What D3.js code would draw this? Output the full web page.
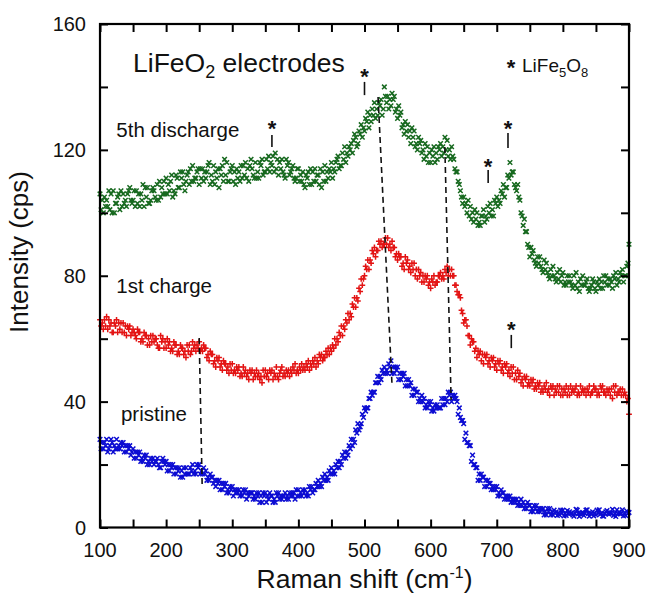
<!DOCTYPE html>
<html><head><meta charset="utf-8">
<script src="https://cdn.jsdelivr.net/npm/d3@7/dist/d3.min.js"></script>
<style>body{margin:0;background:#fff;} svg{display:block;font-family:"Liberation Sans",Arial,sans-serif;}</style>
</head><body>
<svg id="chart" width="649" height="596"></svg>
<script>
// Raman shift grids (cm-1) of three interleaved scans
const shiftA = d3.range(100, 901, 5);      // 161 values
const shiftB = d3.range(101.7, 900, 5);    // 160 values
const shiftC = d3.range(103.4, 900, 5);    // 160 values

// 5th discharge (green, x markers)
const dischargeA = [
106,100,104,101,107,103,101,106,102,108,
104,107,102,109,105,103,108,104,110,106,
111,107,105,112,108,113,110,109,115,111,
109,114,111,116,110,113,108,115,112,110,
115,109,113,111,116,110,114,116,111,117,
113,118,115,119,112,117,111,116,114,110,
114,110,108,113,109,114,112,108,115,111,
116,113,118,115,121,118,122,125,122,128,
126,132,129,135,131,136,140,137,134,137,
130,132,125,128,122,126,120,123,117,121,
116,121,117,122,119,123,117,117,113,107,
105,100,102,97,100,96,101,98,103,99,
105,103,109,108,116,113,107,104,96,94,
86,88,83,86,81,84,79,83,78,82,
81,77,80,76,81,75,80,78,75,79,
75,79,76,80,77,76,81,78,82,80,
90];
const dischargeB = [
101,105,102,106,100,105,107,103,106,104,
107,103,106,102,108,104,107,109,105,110,
106,110,107,111,113,109,112,114,110,113,
114,110,113,109,115,111,114,110,116,113,
110,114,110,115,111,115,112,111,116,112,
117,113,118,114,116,113,117,112,115,111,
110,113,112,109,113,110,109,113,110,114,
111,116,114,119,116,121,119,124,126,124,
130,127,133,130,135,131,137,133,138,132,
134,127,129,124,127,121,124,119,122,116,
120,116,121,118,124,118,121,114,110,105,
102,104,98,101,96,99,97,102,99,104,
102,107,105,112,112,109,109,100,98,90,
89,85,86,83,85,81,82,80,81,78,
77,80,78,80,76,79,77,79,76,78,
78,76,80,77,79,80,77,81,78,83];
const dischargeC = [
104,102,107,100,103,106,102,104,107,103,
102,106,104,108,103,107,105,104,108,106,
109,112,106,108,111,107,113,110,111,114,
111,113,115,112,109,114,112,117,110,114,
113,111,115,112,114,117,111,113,115,113,
114,116,113,117,114,112,115,113,111,114,
112,109,111,114,110,112,114,110,113,113,
114,117,115,117,119,120,123,121,125,127,
129,131,131,133,134,133,135,136,136,133,
131,128,126,126,124,122,122,120,118,119,
118,119,120,121,120,120,118,113,109,103,
103,99,100,98,97,99,99,100,101,103,
104,106,108,111,113,108,105,99,94,89,
87,84,84,82,82,80,80,79,79,80,
78,78,77,77,78,77,77,76,77,76,
77,78,78,79,78,79,79,80,80,84];

// 1st charge (red, + markers)
const chargeA = [
66,63,67,64,62,66,63,65,61,64,
63,60,62,59,61,58,61,60,57,60,
57,59,56,58,55,57,54,58,59,56,
59,56,57,53,55,51,54,50,52,49,
52,49,51,48,50,47,50,48,49,46,
50,47,50,48,47,51,48,50,49,52,
49,52,50,53,51,54,52,55,54,57,
56,60,59,64,63,68,67,73,72,79,
80,85,84,89,88,91,90,92,88,89,
85,86,82,85,81,84,79,81,78,80,
76,80,78,81,79,83,80,80,75,73,
65,64,58,59,54,56,52,55,51,54,
50,53,49,52,48,51,47,49,45,48,
45,47,44,46,43,46,42,45,43,45,
42,45,42,44,45,42,44,42,45,43,
44,42,45,42,44,41,45,43,44,42,
36];
const chargeB = [
64,66,63,65,65,62,65,62,64,61,
62,63,59,62,58,61,59,58,61,57,
60,56,59,55,58,55,58,55,57,58,
56,58,54,56,52,54,51,53,50,52,
49,51,48,51,48,50,47,50,47,50,
48,50,47,51,49,48,50,48,51,49,
51,50,52,50,53,51,55,53,56,55,
58,58,62,61,66,66,71,70,76,77,
83,82,88,86,91,89,92,89,91,86,
87,83,86,82,84,80,82,78,80,77,
79,77,80,79,82,80,82,77,74,69,
66,61,60,56,56,53,55,52,54,51,
53,50,52,49,51,47,50,46,48,45,
47,44,46,43,45,43,45,42,45,42,
44,42,45,43,42,45,43,44,42,45,
42,45,43,44,42,45,42,44,42,40];
const chargeC = [
65,64,66,62,64,65,62,64,63,62,
61,62,60,61,60,59,60,57,59,59,
58,57,58,56,57,56,56,56,58,57,
57,57,55,55,53,53,52,52,51,50,
50,50,49,49,49,49,49,48,48,48,
49,49,49,48,50,49,49,50,50,50,
50,51,51,52,52,53,54,54,55,57,
57,60,61,64,65,68,70,73,75,79,
82,85,87,88,90,90,90,90,89,87,
86,84,84,83,82,82,80,80,79,78,
78,78,80,80,81,82,80,77,74,68,
66,61,59,57,55,55,54,53,53,52,
52,51,51,50,49,49,48,47,47,46,
46,45,45,44,44,44,44,44,43,44,
43,44,43,44,43,43,44,43,43,44,
43,44,43,43,44,43,43,42,43,41];

// pristine (blue, x markers)
const pristineA = [
28,25,28,26,24,28,25,27,24,26,
25,22,24,21,23,20,22,21,19,22,
21,18,20,17,19,16,19,17,20,17,
20,17,18,15,16,13,15,12,14,11,
13,11,12,10,12,10,11,9,11,8,
11,9,10,8,11,9,11,9,11,9,
12,10,12,10,13,12,15,13,17,15,
19,17,21,20,24,23,28,27,33,33,
38,38,43,43,48,47,51,49,53,49,
51,47,49,45,46,42,43,40,41,38,
40,37,39,38,41,40,43,41,40,35,
33,27,26,20,19,15,16,13,14,12,
13,10,11,9,10,8,9,7,8,6,
7,5,7,5,6,4,6,4,5,4,
5.5,3.8,5,4,5.8,3.5,4.8,5.5,3.6,5,
4,5.6,3.7,5,4.2,5.8,3.5,4.9,5.6,3.8,
4.8];
const pristineB = [
25,27,24,28,26,25,27,24,26,23,
22,24,21,23,20,22,20,22,19,21,
18,20,17,19,16,19,17,19,17,20,
17,19,15,17,14,15,12,14,11,13,
10,12,10,12,9,11,9,11,8,11,
8,11,8,11,9,10,9,11,10,12,
10,12,10,13,11,14,13,16,15,18,
17,20,19,23,22,26,26,31,31,36,
37,41,42,46,46,50,49,52,49,51,
47,49,45,47,42,44,40,42,38,40,
37,39,38,41,39,43,40,42,36,34,
28,27,21,20,15,17,13,15,12,13,
10,12,9,10,8,9,7,9,6,8,
5,7,5,6,4,6,4,5.5,3.8,5.5,
3.7,5.4,4.5,3.6,5.5,4.2,3.8,5.6,4.4,3.7,
5.5,4.2,3.6,5.4,4.6,3.8,5.6,4.3,3.7,5.2];
const pristineC = [
27,26,25,27,25,26,26,26,25,24,
24,23,22,22,21,21,21,20,21,20,
20,19,19,18,18,17,17,18,18,19,
18,17,16,16,15,14,14,13,12,12,
12,11,11,11,11,11,10,10,10,10,
10,10,9,10,10,10,10,10,11,10,
11,11,11,12,12,13,14,15,16,17,
18,19,21,22,24,25,28,30,32,35,
38,41,43,46,48,49,50,51,51,50,
49,48,47,45,44,43,41,40,39,39,
38,38,38,39,41,42,42,41,38,34,
30,26,23,19,17,16,15,14,13,12,
11,11,10,9,9,8,8,7,7,7,
6,6,6,5.5,5,5,5,4.6,4.6,4.5,
4.5,4.4,4.6,4.5,4.4,4.6,4.5,4.5,4.4,4.6,
4.5,4.6,4.4,4.5,4.6,4.5,4.4,4.5,4.6,4.5];

const xTicks = [100,200,300,400,500,600,700,800,900];
const yTicks = [0,40,80,120,160];

// series labels: [text, shift, intensity]
const seriesLabels = [["5th discharge",105,124],["1st charge",105,74.5],["pristine",112,34]];
// LiFe5O8 markers: [shift, star intensity, line top, line bottom]
const stars = [[360,127.3,124.7,120.9],[500,143.8,141.6,137.4],[687,115.2,113.6,109.5],[717,127.3,125.4,120.6],[722,63.3,61.2,57.0]];
// dashed guide lines: [x1,y1,x2,y2]
const guides = [[250,60.2,254.5,13.5],[520.5,136.8,541.5,45.9],[621.5,120.9,631,40.5]];

const svg = d3.select("#chart");
const L=100, R=629, T=24, B=527.5;
const x = d3.scaleLinear().domain([100,900]).range([L,R]);
const y = d3.scaleLinear().domain([0,160]).range([B,T]);

const xPath = "M-2.3,-2.3L2.3,2.3M-2.3,2.3L2.3,-2.3";
const pPath = "M-2.9,0L2.9,0M0,-2.9L0,2.9";
function drawSeries(xs, ys, color, path){
  svg.append("g").selectAll("path").data(ys.map((v,i)=>[xs[i],v])).join("path")
    .attr("d", path).attr("transform", d=>`translate(${x(d[0])},${y(d[1])})`)
    .attr("stroke", color).attr("stroke-width", 1.5).attr("fill","none");
}
const cG="#17691f", cR="#e31414", cB="#0c0cd2";
[[shiftA,dischargeA],[shiftB,dischargeB],[shiftC,dischargeC]].forEach(s=>drawSeries(s[0],s[1],cG,xPath));
[[shiftA,chargeA],[shiftB,chargeB],[shiftC,chargeC]].forEach(s=>drawSeries(s[0],s[1],cR,pPath));
[[shiftA,pristineA],[shiftB,pristineB],[shiftC,pristineC]].forEach(s=>drawSeries(s[0],s[1],cB,xPath));

// guides
svg.append("g").selectAll("line").data(guides).join("line")
  .attr("x1",d=>x(d[0])).attr("y1",d=>y(d[1])).attr("x2",d=>x(d[2])).attr("y2",d=>y(d[3]))
  .attr("stroke","#111").attr("stroke-width",1.6).attr("stroke-dasharray","6,4");

// stars
const sg = svg.append("g");
sg.selectAll("line").data(stars).join("line")
  .attr("x1",d=>x(d[0])).attr("x2",d=>x(d[0])).attr("y1",d=>y(d[2])).attr("y2",d=>y(d[3]))
  .attr("stroke","#111").attr("stroke-width",1.6);
sg.selectAll("text").data(stars).join("text")
  .attr("x",d=>x(d[0])).attr("y",d=>y(d[1])+9).attr("text-anchor","middle")
  .attr("font-size",22).attr("font-weight","bold").attr("fill","#111").text("*");

// axes (inward ticks, mirrored)
const minorX = d3.range(100,901,50), minorY = d3.range(0,161,20);
const axG = svg.append("g");
axG.append("g").attr("transform",`translate(0,${B})`).call(d3.axisBottom(x).tickValues(minorX).tickSizeInner(-8).tickSizeOuter(0).tickFormat(""));
axG.append("g").attr("transform",`translate(0,${T})`).call(d3.axisTop(x).tickValues(minorX).tickSizeInner(-8).tickSizeOuter(0).tickFormat(""));
axG.append("g").attr("transform",`translate(${L},0)`).call(d3.axisLeft(y).tickValues(minorY).tickSizeInner(-8).tickSizeOuter(0).tickFormat(""));
axG.append("g").attr("transform",`translate(${R},0)`).call(d3.axisRight(y).tickValues(minorY).tickSizeInner(-8).tickSizeOuter(0).tickFormat(""));
axG.selectAll(".domain").remove();
axG.selectAll("line").attr("stroke","#000").attr("stroke-width",2);
svg.append("rect").attr("x",L).attr("y",T).attr("width",R-L).attr("height",B-T)
  .attr("fill","none").attr("stroke","#000").attr("stroke-width",2.2);

// tick labels
svg.append("g").selectAll("text").data(xTicks).join("text")
  .attr("x",d=>x(d)).attr("y",B+29).attr("text-anchor","middle").attr("font-size",20).attr("fill","#111").text(d=>d);
svg.append("g").selectAll("text").data(yTicks).join("text")
  .attr("x",L-14).attr("y",d=>y(d)+7).attr("text-anchor","end").attr("font-size",20).attr("fill","#111").text(d=>d);

// axis titles
const xt = svg.append("text").attr("x",(L+R)/2).attr("y",588).attr("text-anchor","middle").attr("font-size",26.5).attr("fill","#111");
xt.append("tspan").text("Raman shift (cm");
xt.append("tspan").attr("font-size",16).attr("dy",-10).text("-1");
xt.append("tspan").attr("dy",10).text(")");
svg.append("text").attr("transform","translate(28,252) rotate(-90)").attr("text-anchor","middle")
  .attr("font-size",26).attr("fill","#111").text("Intensity (cps)");

// title
const tt = svg.append("text").attr("x",133).attr("y",72).attr("font-size",26.5).attr("fill","#111");
tt.append("tspan").text("LiFeO");
tt.append("tspan").attr("font-size",18).attr("dy",6).text("2");
tt.append("tspan").attr("dy",-6).text(" electrodes");

// legend
svg.append("text").attr("x",511).attr("y",75).attr("text-anchor","middle").attr("font-size",22).attr("font-weight","bold").attr("fill","#111").text("*");
const lg = svg.append("text").attr("x",522).attr("y",72).attr("font-size",19).attr("fill","#111");
lg.append("tspan").text("LiFe");
lg.append("tspan").attr("font-size",13).attr("dy",5).text("5");
lg.append("tspan").attr("dy",-5).text("O");
lg.append("tspan").attr("font-size",13).attr("dy",5).text("8");

// series labels
svg.append("g").selectAll("text").data(seriesLabels).join("text")
  .attr("x",d=>x(d[1])+13).attr("y",d=>y(d[2])).attr("font-size",20.5).attr("fill","#111").text(d=>d[0]);
</script>
</body></html>
